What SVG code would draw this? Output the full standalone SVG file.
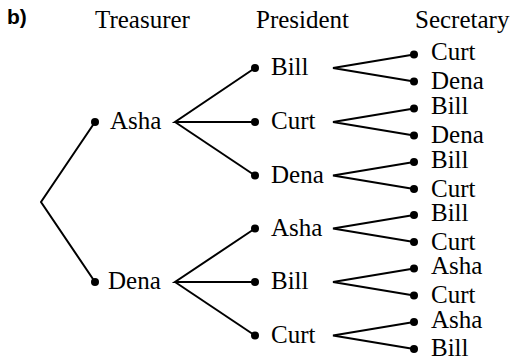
<svg xmlns="http://www.w3.org/2000/svg" width="512" height="358" viewBox="0 0 512 358">
<rect width="512" height="358" fill="#fff"/>
<text x="95" y="28" font-family="Times New Roman" font-size="25">Treasurer</text>
<text x="256" y="28" font-family="Times New Roman" font-size="25">President</text>
<text x="415" y="28" font-family="Times New Roman" font-size="25">Secretary</text>
<g id="connectors" stroke="#000" stroke-width="2" fill="none">
<polyline points="95,122 41,202 95,282"/>
<polyline points="255,68 175,122 255,122"/>
<line x1="175" y1="122" x2="255" y2="175.5"/>
<polyline points="255,228.5 175,282 255,282"/>
<line x1="175" y1="282" x2="255" y2="335.5"/>
<polyline points="414,54.5 333,68 414,81.5"/>
<polyline points="414,108.5 333,122 414,135.5"/>
<polyline points="414,162 333,175.5 414,189"/>
<polyline points="414,215 333,228.5 414,242"/>
<polyline points="414,268.5 333,282 414,295.5"/>
<polyline points="414,322 333,335.5 414,349"/>
</g>
<g id="t-asha"><circle cx="95" cy="122" r="4"/><text x="110" y="129" font-family="Times New Roman" font-size="25">Asha</text></g>
<g id="t-dena"><circle cx="95" cy="282" r="4"/><text x="108" y="289" font-family="Times New Roman" font-size="25">Dena</text></g>
<g id="p-bill-1"><circle cx="255" cy="68" r="4"/><text x="271" y="75" font-family="Times New Roman" font-size="25">Bill</text></g>
<g id="p-curt-1"><circle cx="255" cy="122" r="4"/><text x="271" y="129" font-family="Times New Roman" font-size="25">Curt</text></g>
<g id="p-dena-1"><circle cx="255" cy="175.5" r="4"/><text x="271" y="182.5" font-family="Times New Roman" font-size="25">Dena</text></g>
<g id="p-asha-2"><circle cx="255" cy="228.5" r="4"/><text x="271" y="235.5" font-family="Times New Roman" font-size="25">Asha</text></g>
<g id="p-bill-2"><circle cx="255" cy="282" r="4"/><text x="271" y="289" font-family="Times New Roman" font-size="25">Bill</text></g>
<g id="p-curt-2"><circle cx="255" cy="335.5" r="4"/><text x="271" y="342.5" font-family="Times New Roman" font-size="25">Curt</text></g>
<g id="s1"><circle cx="414" cy="54.5" r="4"/><text x="431" y="60" font-family="Times New Roman" font-size="25">Curt</text></g>
<g id="s2"><circle cx="414" cy="81.5" r="4"/><text x="431" y="89" font-family="Times New Roman" font-size="25">Dena</text></g>
<g id="s3"><circle cx="414" cy="108.5" r="4"/><text x="431" y="114" font-family="Times New Roman" font-size="25">Bill</text></g>
<g id="s4"><circle cx="414" cy="135.5" r="4"/><text x="431" y="143" font-family="Times New Roman" font-size="25">Dena</text></g>
<g id="s5"><circle cx="414" cy="162" r="4"/><text x="431" y="167.5" font-family="Times New Roman" font-size="25">Bill</text></g>
<g id="s6"><circle cx="414" cy="189" r="4"/><text x="431" y="196.5" font-family="Times New Roman" font-size="25">Curt</text></g>
<g id="s7"><circle cx="414" cy="215" r="4"/><text x="431" y="220.5" font-family="Times New Roman" font-size="25">Bill</text></g>
<g id="s8"><circle cx="414" cy="242" r="4"/><text x="431" y="249.5" font-family="Times New Roman" font-size="25">Curt</text></g>
<g id="s9"><circle cx="414" cy="268.5" r="4"/><text x="431" y="274" font-family="Times New Roman" font-size="25">Asha</text></g>
<g id="s10"><circle cx="414" cy="295.5" r="4"/><text x="431" y="303" font-family="Times New Roman" font-size="25">Curt</text></g>
<g id="s11"><circle cx="414" cy="322" r="4"/><text x="431" y="327.5" font-family="Times New Roman" font-size="25">Asha</text></g>
<g id="s12"><circle cx="414" cy="349" r="4"/><text x="431" y="356" font-family="Times New Roman" font-size="25">Bill</text></g>
<text x="7" y="24" font-family="Liberation Sans" font-weight="bold" font-size="21">b)</text>
</svg>
